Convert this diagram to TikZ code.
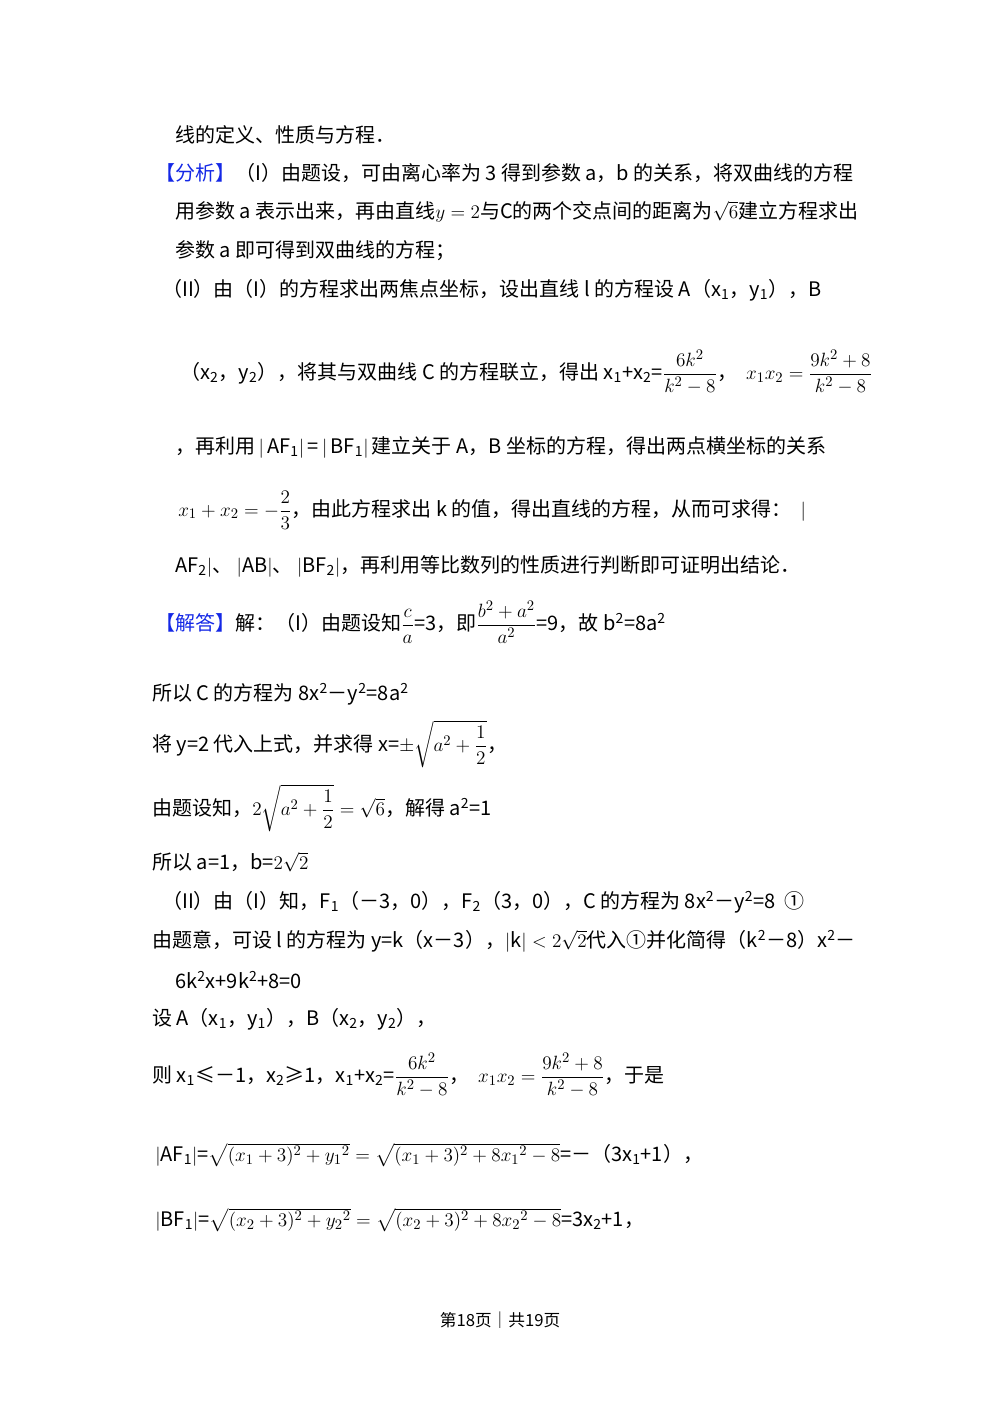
\documentclass[tikz,border=0pt]{standalone}
\usepackage{amsmath}
\usepackage{fontspec}
\setmainfont{Noto Sans CJK SC}
\definecolor{hl}{RGB}{20,40,230}
\begin{document}
\begin{tikzpicture}[x=0.75pt,y=-0.75pt,
  ln/.style={anchor=west,inner sep=0pt,font=\fontsize{15}{17}\selectfont}]
\useasboundingbox (0,0) rectangle (1000,1414);
\node[ln] (l1) at (175,135) {线的定义、性质与方程．};
\node[ln] (l2) at (155,173) {\textcolor{hl}{【分析】}（I）由题设，可由离心率为 3 得到参数 a，b 的关系，将双曲线的方程};
\node[ln] (l3) at (175,212) {用参数 a 表示出来，再由直线$y=2$与C的两个交点间的距离为$\sqrt{6}$建立方程求出};
\node[ln] (l4) at (175,251) {参数 a 即可得到双曲线的方程；};
\node[ln] (l5) at (162,290) {（II）由（I）的方程求出两焦点坐标，设出直线 l 的方程设 A（x\textsubscript{1}，y\textsubscript{1}），B};
\node[ln] (l6) at (180,372) {（x\textsubscript{2}，y\textsubscript{2}），将其与双曲线 C 的方程联立，得出 x\textsubscript{1}+x\textsubscript{2}=$\dfrac{6k^2}{k^2-8}$，\ \ $x_1x_2=\dfrac{9k^2+8}{k^2-8}$};
\node[ln] (l7) at (175,447) {，再利用\,$|$\,AF\textsubscript{1}$|$\,=\,$|$\,BF\textsubscript{1}$|$\,建立关于 A，B 坐标的方程，得出两点横坐标的关系};
\node[ln] (l8) at (178,510) {$x_1+x_2=-\dfrac{2}{3}$，由此方程求出 k 的值，得出直线的方程，从而可求得：\ \ $|$};
\node[ln] (l9) at (175,566) {AF\textsubscript{2}$|$、\ $|$AB$|$、\ $|$BF\textsubscript{2}$|$，再利用等比数列的性质进行判断即可证明出结论．};
\node[ln] (l10) at (155,622) {\textcolor{hl}{【解答】}解：（I）由题设知$\dfrac{c}{a}$=3，即$\dfrac{b^2+a^2}{a^2}$=9，故 b\textsuperscript{2}=8a\textsuperscript{2}};
\node[ln] (l11) at (152,694) {所以 C 的方程为 8x\textsuperscript{2}－y\textsuperscript{2}=8a\textsuperscript{2}};
\node[ln] (l12) at (152,744) {将 y=2 代入上式，并求得 x=$\pm\sqrt{a^2+\dfrac{1}{2}}$，};
\node[ln] (l13) at (152,808) {由题设知，$2\sqrt{a^2+\dfrac{1}{2}}=\sqrt{6}$，解得 a\textsuperscript{2}=1};
\node[ln] (l14) at (152,862) {所以 a=1，b=$2\sqrt{2}$};
\node[ln] (l15) at (162,902) {（II）由（I）知，F\textsubscript{1}（－3，0），F\textsubscript{2}（3，0），C 的方程为 8x\textsuperscript{2}－y\textsuperscript{2}=8\ \ ①};
\node[ln] (l16) at (152,941) {由题意，可设 l 的方程为 y=k（x－3），$|$k$|<2\sqrt{2}$代入①并化简得（k\textsuperscript{2}－8）x\textsuperscript{2}－};
\node[ln] (l17) at (175,980) {6k\textsuperscript{2}x+9k\textsuperscript{2}+8=0};
\node[ln] (l18) at (152,1019) {设 A（x\textsubscript{1}，y\textsubscript{1}），B（x\textsubscript{2}，y\textsubscript{2}），};
\node[ln] (l19) at (152,1075) {则 x\textsubscript{1}≤－1，x\textsubscript{2}≥1，x\textsubscript{1}+x\textsubscript{2}=$\dfrac{6k^2}{k^2-8}$，\ \ $x_1x_2=\dfrac{9k^2+8}{k^2-8}$，于是};
\node[ln] (l20) at (155,1155) {$|$AF\textsubscript{1}$|$=$\sqrt{(x_1+3)^2+y_1{}^2}=\sqrt{(x_1+3)^2+8x_1{}^2-8}$=－（3x\textsubscript{1}+1），};
\node[ln] (l21) at (155,1220) {$|$BF\textsubscript{1}$|$=$\sqrt{(x_2+3)^2+y_2{}^2}=\sqrt{(x_2+3)^2+8x_2{}^2-8}$=3x\textsubscript{2}+1，};
\node[anchor=center,inner sep=0pt,font=\fontsize{12.5}{15}\selectfont] (ft) at (500,1320) {第18页｜共19页};
\end{tikzpicture}
\end{document}
